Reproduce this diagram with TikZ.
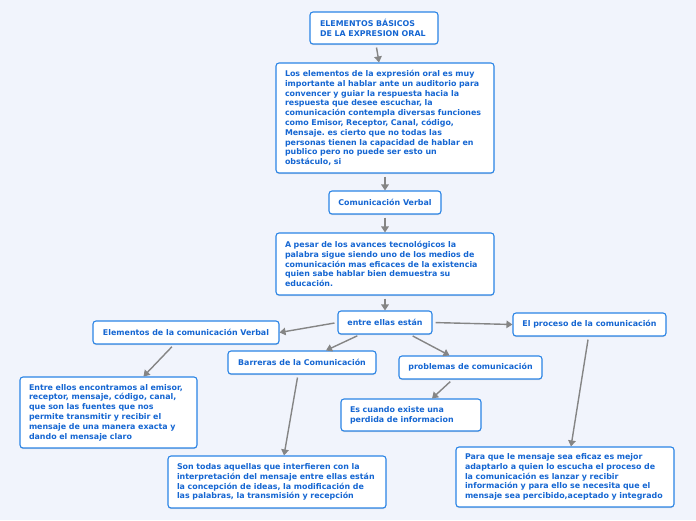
\documentclass[tikz,border=0pt]{standalone}
\usepackage{fontspec}
\setmainfont{DejaVu Sans}
\usetikzlibrary{arrows.meta,shadows}
\definecolor{bg}{HTML}{F1F4FC}
\definecolor{bdr}{HTML}{2A84E6}
\definecolor{txt}{HTML}{1566D2}
\definecolor{conn}{HTML}{858585}
\hyphenpenalty=10000
\hfuzz=100pt
\frenchspacing
\newcommand\Ln[1]{\mbox{#1}}
\tikzset{
  box/.style={draw=bdr, fill=white, rounded corners=3pt, line width=1.1pt, text=txt,
    font=\bfseries\fontsize{7.9}{9.8}\selectfont, inner sep=0pt,
    drop shadow={opacity=0.25, shadow xshift=0pt, shadow yshift=-1.2pt}},
  multi/.style={align=left},
  link/.style={draw=conn, line width=1.4pt, shorten <=3pt, -{Triangle[length=6pt,width=7.5pt]}}
}
\begin{document}
\begin{tikzpicture}[x=1pt,y=-1pt]
\fill[bg] (0,0) rectangle (696,520);
\useasboundingbox (0,0) rectangle (696,520);
\node[box, minimum width=128pt, minimum height=32pt, text width=108pt, multi] (title) at (374,28)
  {ELEMENTOS BÁSICOS\\DE LA EXPRESION ORAL};
\node[box, minimum width=218pt, minimum height=110pt, text width=200pt, multi] (big) at (385,118)
  {\Ln{Los elementos de la expresión oral es muy}\\\Ln{importante al hablar ante un auditorio para}\\\Ln{convencer y guiar la respuesta hacia la}\\\Ln{respuesta que desee escuchar, la}\\\Ln{comunicación contempla diversas funciones}\\\Ln{como Emisor, Receptor, Canal, código,}\\\Ln{Mensaje. es cierto que no todas las}\\\Ln{personas tienen la capacidad de hablar en}\\\Ln{publico pero no puede ser esto un}\\\Ln{obstáculo, si}};
\node[box, minimum width=112pt, minimum height=23pt] (cv) at (385,202.5) {Comunicación Verbal};
\node[box, minimum width=218pt, minimum height=62pt, text width=200pt, multi] (apesar) at (385,264)
  {\Ln{A pesar de los avances tecnológicos la}\\\Ln{palabra sigue siendo uno de los medios de}\\\Ln{comunicación mas eficaces de la existencia}\\\Ln{quien sabe hablar bien demuestra su}\\\Ln{educación.}};
\node[box, minimum width=94pt, minimum height=23pt] (entre) at (385,322.5) {entre ellas están};
\node[box, minimum width=186pt, minimum height=23pt] (elem) at (186,332.5) {Elementos de la comunicación Verbal};
\node[box, minimum width=153pt, minimum height=23pt] (proc) at (589.5,324.5) {El proceso de la comunicación};
\node[box, minimum width=148pt, minimum height=23pt] (barr) at (302,362.5) {Barreras de la Comunicación};
\node[box, minimum width=143pt, minimum height=23pt] (prob) at (470.5,367.5) {problemas de comunicación};
\node[box, minimum width=140pt, minimum height=32pt, text width=122pt, multi] (es) at (411,415)
  {\Ln{Es cuando existe una}\\\Ln{perdida de informacion}};
\node[box, minimum width=177pt, minimum height=71pt, text width=159pt, multi] (ellos) at (108.5,412.5)
  {\Ln{Entre ellos encontramos al emisor,}\\\Ln{receptor, mensaje, código, canal,}\\\Ln{que son las fuentes que nos}\\\Ln{permite transmitir y recibir el}\\\Ln{mensaje de una manera exacta y}\\\Ln{dando el mensaje claro}};
\node[box, minimum width=218pt, minimum height=52pt, text width=200pt, multi] (son) at (277,482)
  {\Ln{Son todas aquellas que interfieren con la}\\\Ln{interpretación del mensaje entre ellas están}\\\Ln{la concepción de ideas, la modificación de}\\\Ln{las palabras, la transmisión y recepción}};
\node[box, minimum width=218pt, minimum height=60pt, text width=200pt, multi] (para) at (565,477)
  {\Ln{Para que le mensaje sea eficaz es mejor}\\\Ln{adaptarlo a quien lo escucha el proceso de}\\\Ln{la comunicación es lanzar y recibir}\\\Ln{información y para ello se necesita que el}\\\Ln{mensaje sea percibido,aceptado y integrado}};
\draw[link] ([xshift=2pt]title.south) -- ([xshift=-6pt]big.north);
\draw[link] (big.south) -- (cv.north);
\draw[link] (cv.south) -- (apesar.north);
\draw[link] (apesar.south) -- (entre.north);
\draw[link] (entre.west) -- (elem.east);
\draw[link] (entre.east) -- (proc.west);
\draw[link] ([xshift=-25pt]entre.south) -- ([xshift=24pt]barr.north);
\draw[link] ([xshift=25pt]entre.south) -- ([xshift=-21pt]prob.north);
\draw[link] ([xshift=-12pt]elem.south) -- ([xshift=35pt]ellos.north);
\draw[link] ([xshift=-4pt]barr.south) -- ([xshift=7pt]son.north);
\draw[link] ([xshift=-18pt]prob.south) -- ([xshift=21pt]es.north);
\draw[link] ([xshift=-1pt]proc.south) -- ([xshift=6pt]para.north);
\end{tikzpicture}
\end{document}
